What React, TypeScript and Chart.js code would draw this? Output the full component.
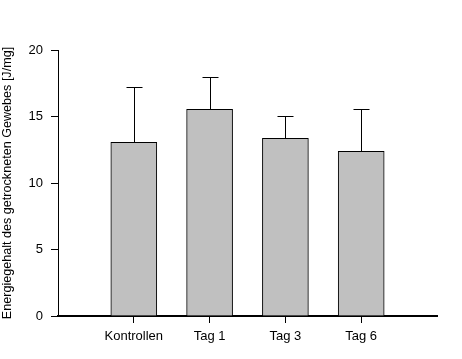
import React, { useEffect, useRef } from "react";
import { Chart, registerables } from "chart.js";

Chart.register(...registerables);

const categories = ["", "Kontrollen", "Tag 1", "Tag 3", "Tag 6", ""];
const values = [null, 13.06, 15.54, 13.36, 12.38, null];
const errors = [null, 4.14, 2.41, 1.65, 3.21, null];
const yTicks = [0, 5, 10, 15, 20];
const yTitle = "Energiegehalt des getrockneten Gewebes [J/mg]";

const FONT = "'Liberation Sans', Arial, sans-serif";

const errorBarPlugin = {
  id: "errorBars",
  afterDatasetsDraw(chart: any) {
    const meta = chart.getDatasetMeta(0);
    const yScale = chart.scales.y;
    const ctx = chart.ctx;
    ctx.save();
    ctx.strokeStyle = "#000";
    ctx.lineWidth = 1;
    values.forEach((v, i) => {
      const e = errors[i];
      if (v == null || e == null) return;
      const el = meta.data[i];
      const x = Math.round(el.x) + 0.5;
      const yBar = yScale.getPixelForValue(v);
      const yTop = Math.round(yScale.getPixelForValue(v + e)) + 0.5;
      ctx.beginPath();
      ctx.moveTo(x, yBar);
      ctx.lineTo(x, yTop);
      ctx.moveTo(x - 8, yTop);
      ctx.lineTo(x + 8, yTop);
      ctx.stroke();
    });
    ctx.restore();
  },
};

export default function App() {
  const ref = useRef<HTMLCanvasElement | null>(null);
  useEffect(() => {
    if (!ref.current) return;
    const chart = new Chart(ref.current, {
      type: "bar",
      data: {
        labels: categories,
        datasets: [
          {
            data: values as any,
            backgroundColor: "#c0c0c0",
            borderColor: "#000",
            borderWidth: 1,
            barThickness: 46,
          },
        ],
      },
      options: {
        responsive: false,
        animation: false,
        layout: { padding: { top: 50, right: 25, left: 0, bottom: 0 } },
        plugins: { legend: { display: false }, tooltip: { enabled: false } },
        scales: {
          x: {
            type: "category",
            offset: false,
            border: { color: "#000", width: 2 },
            grid: {
              offset: false,
              drawOnChartArea: false,
              tickLength: 7,
              tickColor: (c: any) =>
                c.index === 0 || c.index === categories.length - 1 ? "rgba(0,0,0,0)" : "#000",
            },
            ticks: {
              color: "#000",
              font: { family: FONT, size: 13 },
              padding: 6,
              maxRotation: 0,
              autoSkip: false,
            },
            afterFit: (s: any) => {
              s.height = 43;
            },
          },
          y: {
            min: 0,
            max: 20,
            afterBuildTicks: (s: any) => {
              s.ticks = yTicks.map((v) => ({ value: v }));
            },
            border: { color: "#000", width: 1 },
            grid: { drawOnChartArea: false, tickLength: 7, tickColor: "#000" },
            ticks: {
              color: "#000",
              font: { family: FONT, size: 13 },
              padding: 8,
            },
            title: {
              display: true,
              text: yTitle,
              color: "#000",
              font: { family: FONT, size: 12.6 },
              padding: { top: 0, bottom: 0 },
            },
            afterFit: (s: any) => {
              s.width = 58;
            },
          },
        },
      },
      plugins: [errorBarPlugin],
    });
    return () => chart.destroy();
  }, []);
  return (
    <div style={{ position: "absolute", left: 0, top: 0, width: 462, height: 359, background: "#fff" }}>
      <canvas ref={ref} width={462} height={359} style={{ display: "block" }} />
    </div>
  );
}
